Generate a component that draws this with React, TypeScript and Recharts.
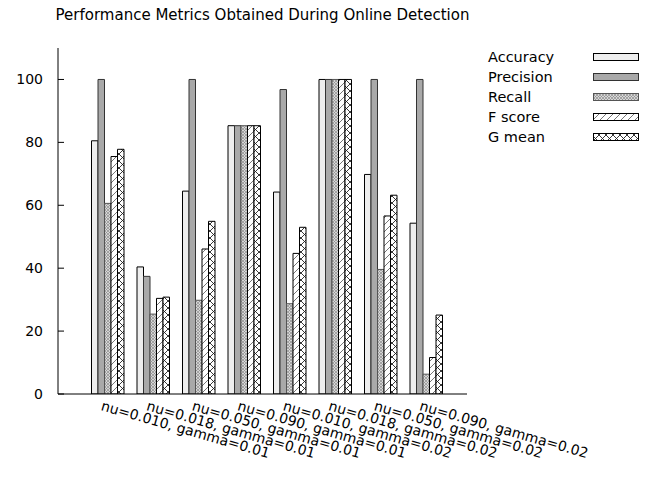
import React from 'react';
import { BarChart, Bar, XAxis, YAxis, Legend } from 'recharts';

const CATEGORIES = [
  'nu=0.010, gamma=0.01',
  'nu=0.018, gamma=0.01',
  'nu=0.050, gamma=0.01',
  'nu=0.090, gamma=0.01',
  'nu=0.010, gamma=0.02',
  'nu=0.018, gamma=0.02',
  'nu=0.050, gamma=0.02',
  'nu=0.090, gamma=0.02',
];
const ACCURACY = [80.5, 40.4, 64.5, 85.3, 64.2, 100, 69.8, 54.3];
const PRECISION = [100, 37.4, 100, 85.3, 96.8, 100, 100, 100];
const RECALL = [60.6, 25.4, 29.8, 85.3, 28.7, 100, 39.6, 6.3];
const FSCORE = [75.5, 30.4, 46.1, 85.3, 44.7, 100, 56.6, 11.6];
const GMEAN = [77.8, 30.8, 54.9, 85.3, 53.0, 100, 63.2, 25.1];
const Y_TICKS = [0, 20, 40, 60, 80, 100];
const TITLE = 'Performance Metrics Obtained During Online Detection';

const SERIES = [
  { key: 'accuracy', name: 'Accuracy', fill: '#eeeeee', stroke: '#000', pat: null },
  { key: 'precision', name: 'Precision', fill: '#a9a9a9', stroke: '#333', pat: null },
  { key: 'recall', name: 'Recall', fill: '', stroke: '#555', pat: 'recall' },
  { key: 'fscore', name: 'F score', fill: '', stroke: '#000', pat: 'fscore' },
  { key: 'gmean', name: 'G mean', fill: '', stroke: '#000', pat: 'gmean' },
];

const data = CATEGORIES.map((c, i) => ({
  cat: c,
  accuracy: ACCURACY[i],
  precision: PRECISION[i],
  recall: RECALL[i],
  fscore: FSCORE[i],
  gmean: GMEAN[i],
}));

const FONT = '"DejaVu Sans", sans-serif';
const W = 646;
const H = 478;
const PLOT_LEFT = 58;
const PLOT_RIGHT = 467;
const PLOT_TOP = 48;
const PLOT_BOTTOM = 394;

const Patterns = ({ prefix }: { prefix: string }) => (
  <defs>
    <pattern id={`${prefix}-recall`} width="3" height="3" patternUnits="userSpaceOnUse">
      <rect width="3" height="3" fill="#d6d6d6" />
      <path d="M0,0 L3,3 M3,0 L0,3" stroke="#8c8c8c" strokeWidth="0.7" />
    </pattern>
    <pattern id={`${prefix}-fscore`} width="7" height="7" patternUnits="userSpaceOnUse">
      <rect width="7" height="7" fill="#fff" />
      <path d="M0,7 L7,0 M-1,1 L1,-1 M6,8 L8,6" stroke="#666" strokeWidth="0.9" />
    </pattern>
    <pattern id={`${prefix}-gmean`} width="7" height="7" patternUnits="userSpaceOnUse">
      <rect width="7" height="7" fill="#fff" />
      <path d="M0,7 L7,0 M0,0 L7,7 M-1,1 L1,-1 M6,8 L8,6 M-1,6 L1,8 M6,-1 L8,1" stroke="#222" strokeWidth="0.9" />
    </pattern>
  </defs>
);

const fillFor = (s: any, prefix: string) => (s.pat ? `url(#${prefix}-${s.pat})` : s.fill);

const LeftTick = (props: any) => {
  const { x, y, payload } = props;
  return (
    <g>
      <text x={x} y={y} dy="0.36em" textAnchor="end" fontFamily={FONT} fontSize={14} fill="#000">
        {payload.value}
      </text>
      <line x1={x + 15} x2={x + 21} y1={y} y2={y} stroke="#000" strokeWidth={1} />
    </g>
  );
};

const RightTick = (props: any) => {
  const { x, y } = props;
  return <line x1={x - 6} x2={x} y1={y} y2={y} stroke="#000" strokeWidth={1} />;
};

const XTick = (props: any) => {
  const { x, y, payload } = props;
  return (
    <text
      transform={`translate(${x - 7},${y + 16}) rotate(16)`}
      textAnchor="start"
      fontFamily={FONT}
      fontSize={14}
      fill="#000"
    >
      {payload.value}
    </text>
  );
};

const LegendContent = () => (
  <svg width={165} height={110} style={{ display: 'block' }}>
    <Patterns prefix="lg" />
    {SERIES.map((s, i) => (
      <g key={s.key}>
        <text x={8} y={17.8 + 20 * i} fontFamily={FONT} fontSize={14.5} fill="#000">
          {s.name}
        </text>
        <rect x={113.5} y={9.5 + 20 * i} width={45} height={7} fill={fillFor(s, 'lg')} stroke={s.stroke} strokeWidth={1} />
      </g>
    ))}
  </svg>
);

export default function App() {
  return (
    <div style={{ position: 'absolute', left: 0, top: 0, width: W, height: H, background: '#fff' }}>
      <div
        style={{
          position: 'absolute',
          left: PLOT_LEFT - 100,
          width: PLOT_RIGHT - PLOT_LEFT + 200,
          top: 6,
          textAlign: 'center',
          fontFamily: FONT,
          fontSize: 15,
          whiteSpace: 'nowrap',
          color: '#000',
          zIndex: 2,
        }}
      >
        {TITLE}
      </div>
      <BarChart
        width={W}
        height={H}
        data={data}
        margin={{ top: PLOT_TOP, right: W - PLOT_RIGHT, bottom: 0, left: 0 }}
        barSize={6.5}
        barGap={0}
      >
        <Patterns prefix="ch" />
        <XAxis
          dataKey="cat"
          type="category"
          height={H - PLOT_BOTTOM}
          interval={0}
          padding={{ left: 26.5, right: 18.5 }}
          axisLine={{ stroke: '#000', strokeWidth: 1 }}
          tickLine={false}
          tickSize={0}
          tickMargin={0}
          tick={<XTick />}
        />
        <XAxis
          xAxisId="top"
          orientation="top"
          dataKey="cat"
          type="category"
          height={0}
          axisLine={{ stroke: '#000', strokeWidth: 1 }}
          tickLine={false}
          tick={false}
        />
        <YAxis
          type="number"
          domain={[0, 110]}
          ticks={Y_TICKS}
          width={PLOT_LEFT}
          axisLine={{ stroke: '#000', strokeWidth: 1 }}
          tickLine={false}
          tickSize={0}
          tickMargin={15}
          tick={<LeftTick />}
          allowDataOverflow
        />
        <YAxis
          yAxisId="right"
          orientation="right"
          type="number"
          domain={[0, 110]}
          ticks={Y_TICKS}
          width={0}
          axisLine={{ stroke: '#000', strokeWidth: 1 }}
          tickLine={false}
          tickSize={0}
          tickMargin={0}
          tick={<RightTick />}
          allowDataOverflow
        />
        <Legend
          layout="vertical"
          align="center"
          verticalAlign="middle"
          wrapperStyle={{ left: 480, top: 44, width: 165, height: 110 }}
          content={<LegendContent />}
        />
        {SERIES.map((s) => (
          <Bar
            key={s.key}
            dataKey={s.key}
            name={s.name}
            fill={fillFor(s, 'ch')}
            stroke={s.stroke}
            strokeWidth={1}
            isAnimationActive={false}
          />
        ))}
      </BarChart>
    </div>
  );
}
